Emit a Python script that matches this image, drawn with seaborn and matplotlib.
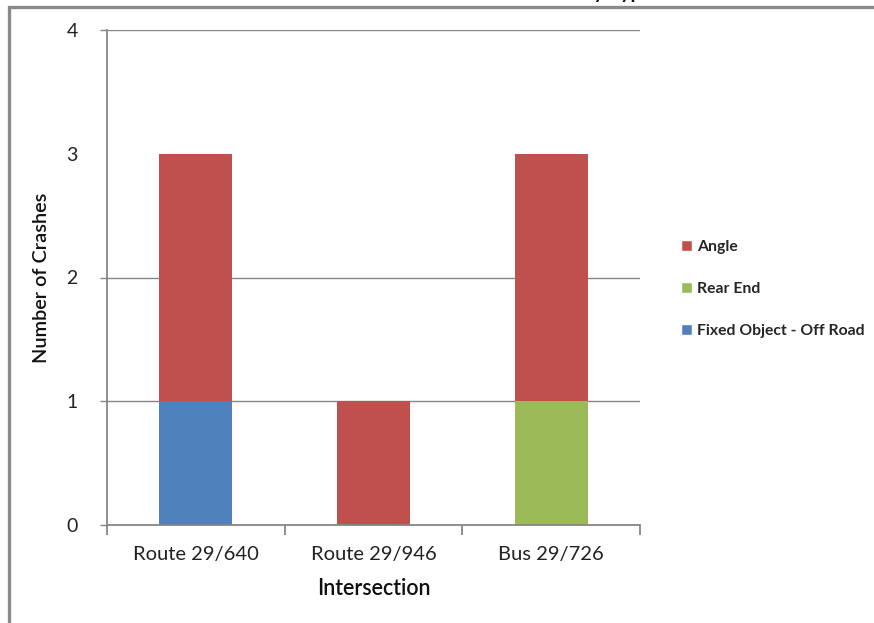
import matplotlib
matplotlib.use("Agg")
import matplotlib.pyplot as plt
from matplotlib.patches import Patch, Rectangle
import seaborn as sns
import pandas as pd

# Crash counts per intersection, split by collision type
intersections = ["Route 29/640", "Route 29/946", "Bus 29/726"]
fixed_object = [1, 0, 0]
rear_end = [0, 0, 1]
angle = [2, 1, 2]
type_names = ["Angle", "Rear End", "Fixed Object - Off Road"]
y_ticks = [0, 1, 2, 3, 4]

COL_ANGLE = "#C0504D"
COL_REAR = "#9BBB59"
COL_FIXED = "#4F81BD"
GRAY = "#868686"

sns.set_theme(style="white")
plt.rcParams["font.family"] = ["Lato", "DejaVu Sans"]

fig = plt.figure(figsize=(8.74, 6.23), dpi=100)
W, H = 874, 623
ax = fig.add_axes([107 / W, 1 - 525 / H, (640 - 107) / W, (525 - 30) / H])

# stacked totals drawn back to front
tot_rear = [f + r for f, r in zip(fixed_object, rear_end)]
tot_all = [t + a for t, a in zip(tot_rear, angle)]
df = pd.DataFrame({"Intersection": intersections, "all": tot_all,
                   "rear": tot_rear, "fixed": fixed_object})
bw = 0.41
sns.barplot(data=df, x="Intersection", y="all", color=COL_ANGLE, saturation=1,
            width=bw, linewidth=0, ax=ax)
sns.barplot(data=df, x="Intersection", y="rear", color=COL_REAR, saturation=1,
            width=bw, linewidth=0, ax=ax)
sns.barplot(data=df, x="Intersection", y="fixed", color=COL_FIXED, saturation=1,
            width=bw, linewidth=0, ax=ax)

ax.set_xlim(-0.5, 2.5)
ax.set_ylim(0, 4)
ax.set_yticks(y_ticks)
ax.set_yticklabels([str(t) for t in y_ticks])

# horizontal gridlines
for t in [1, 2, 4]:
    ax.axhline(t, color=GRAY, lw=1.0, zorder=0)

for s in ["top", "right"]:
    ax.spines[s].set_visible(False)
for s in ["left", "bottom"]:
    ax.spines[s].set_color(GRAY)
    ax.spines[s].set_linewidth(1.3)

ax.tick_params(axis="y", which="major", length=5, width=1, color=GRAY,
               direction="out", labelsize=14, pad=16, labelcolor="#222222", left=True)
ax.yaxis.get_major_ticks()[3].tick1line.set_visible(False)

ax.set_xticks([0, 1, 2])
ax.set_xticklabels(intersections)
ax.set_xticks([-0.5, 0.5, 1.5, 2.5], minor=True)
ax.tick_params(axis="x", which="major", length=0, labelsize=14.5, pad=15,
               labelcolor="#222222")
ax.tick_params(axis="x", which="minor", length=7, width=1.3, color=GRAY,
               direction="out", bottom=True)

ax.set_xlabel("Intersection", fontsize=15.5, fontweight="semibold", labelpad=11,
              color="#111111")
ax.set_ylabel("Number of Crashes", fontsize=14.3, fontweight="semibold",
              labelpad=12, color="#111111")

handles = [Patch(facecolor=COL_ANGLE), Patch(facecolor=COL_REAR),
           Patch(facecolor=COL_FIXED)]
fig.legend(handles, type_names, loc="center left",
           bbox_to_anchor=(667 / W, 1 - 289 / H), frameon=False,
           handlelength=0.72, handleheight=0.72, handletextpad=0.3,
           labelspacing=1.8, prop={"size": 11.3, "weight": "bold"})

# chart frame and clipped title
fig.patches.append(Rectangle((9 / W, -0.1), 2.0, 1 - 7 / H + 0.1,
                             transform=fig.transFigure, fill=False,
                             edgecolor="#8a8a8a", lw=2.4))
fig.text(652 / W, 1 + 1 / H, "Crashes by Type", ha="right", va="baseline",
         fontsize=14, fontweight="bold", color="#111111")

fig.savefig("out.png", dpi=100)
